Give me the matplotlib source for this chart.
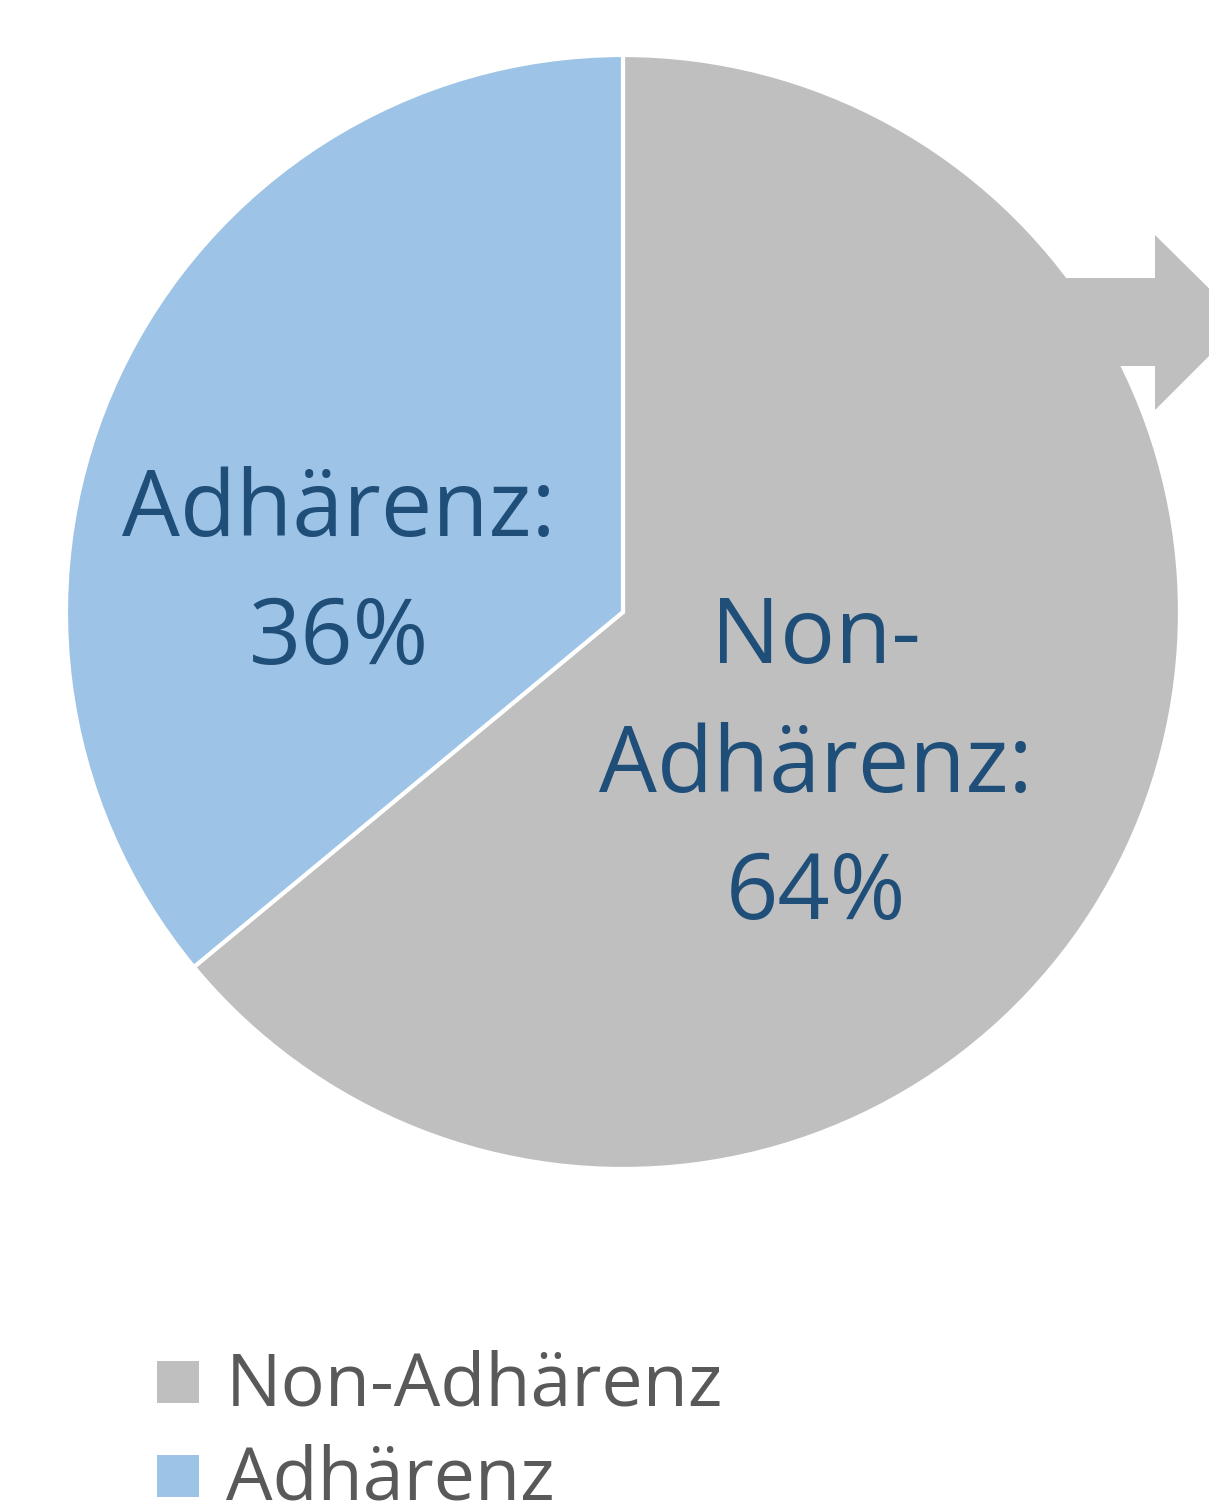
import matplotlib.pyplot as plt
from matplotlib.patches import Polygon

labels = ["Non-Adhärenz", "Adhärenz"]
shares = [64, 36]
colors = ["#BFBFBF", "#9DC3E6"]

W, H = 1209, 1503
plt.rcParams['font.family'] = ['Open Sans', 'DejaVu Sans']

fig = plt.figure(figsize=(W / 100, H / 100), dpi=100)
ax = fig.add_axes([0, 0, 1, 1])

# pie in pixel coordinates (y pointing up)
ax.pie(shares, colors=colors, startangle=90, counterclock=False,
       center=(623, H - 612), radius=557,
       wedgeprops=dict(edgecolor="white", linewidth=3))

# the arrow leaving the grey slice on the right
arrow = [(1000, 278), (1155, 278), (1155, 235), (1243, 322),
         (1155, 410), (1155, 366), (1000, 366)]
ax.add_patch(Polygon([(x, H - y) for x, y in arrow], closed=True,
                     facecolor=colors[0], edgecolor="none", zorder=5))

lab_col = "#1F4E79"
fs = 66
ax.text(339, H - 512, "Adhärenz:", ha="center", va="center", fontsize=fs, color=lab_col, zorder=6)
ax.text(339, H - 640, f"{shares[1]}%", ha="center", va="center", fontsize=fs, color=lab_col, zorder=6)
ax.text(816, H - 639, "Non-", ha="center", va="center", fontsize=fs, color=lab_col, zorder=6)
ax.text(816, H - 768, "Adhärenz:", ha="center", va="center", fontsize=fs, color=lab_col, zorder=6)
ax.text(816, H - 895, f"{shares[0]}%", ha="center", va="center", fontsize=fs, color=lab_col, zorder=6)

# legend
for i, (lab, col) in enumerate(zip(labels, colors)):
    y = 1382 + i * 94
    ax.add_patch(plt.Rectangle((157, H - y - 21), 42, 42, facecolor=col, edgecolor="none"))
    ax.text(226, H - y - 4, lab, ha="left", va="center", fontsize=53, color="#595959")

ax.set_xlim(0, W)
ax.set_ylim(0, H)
ax.set_aspect("auto")
ax.axis("off")

fig.savefig("out.png", dpi=100)
